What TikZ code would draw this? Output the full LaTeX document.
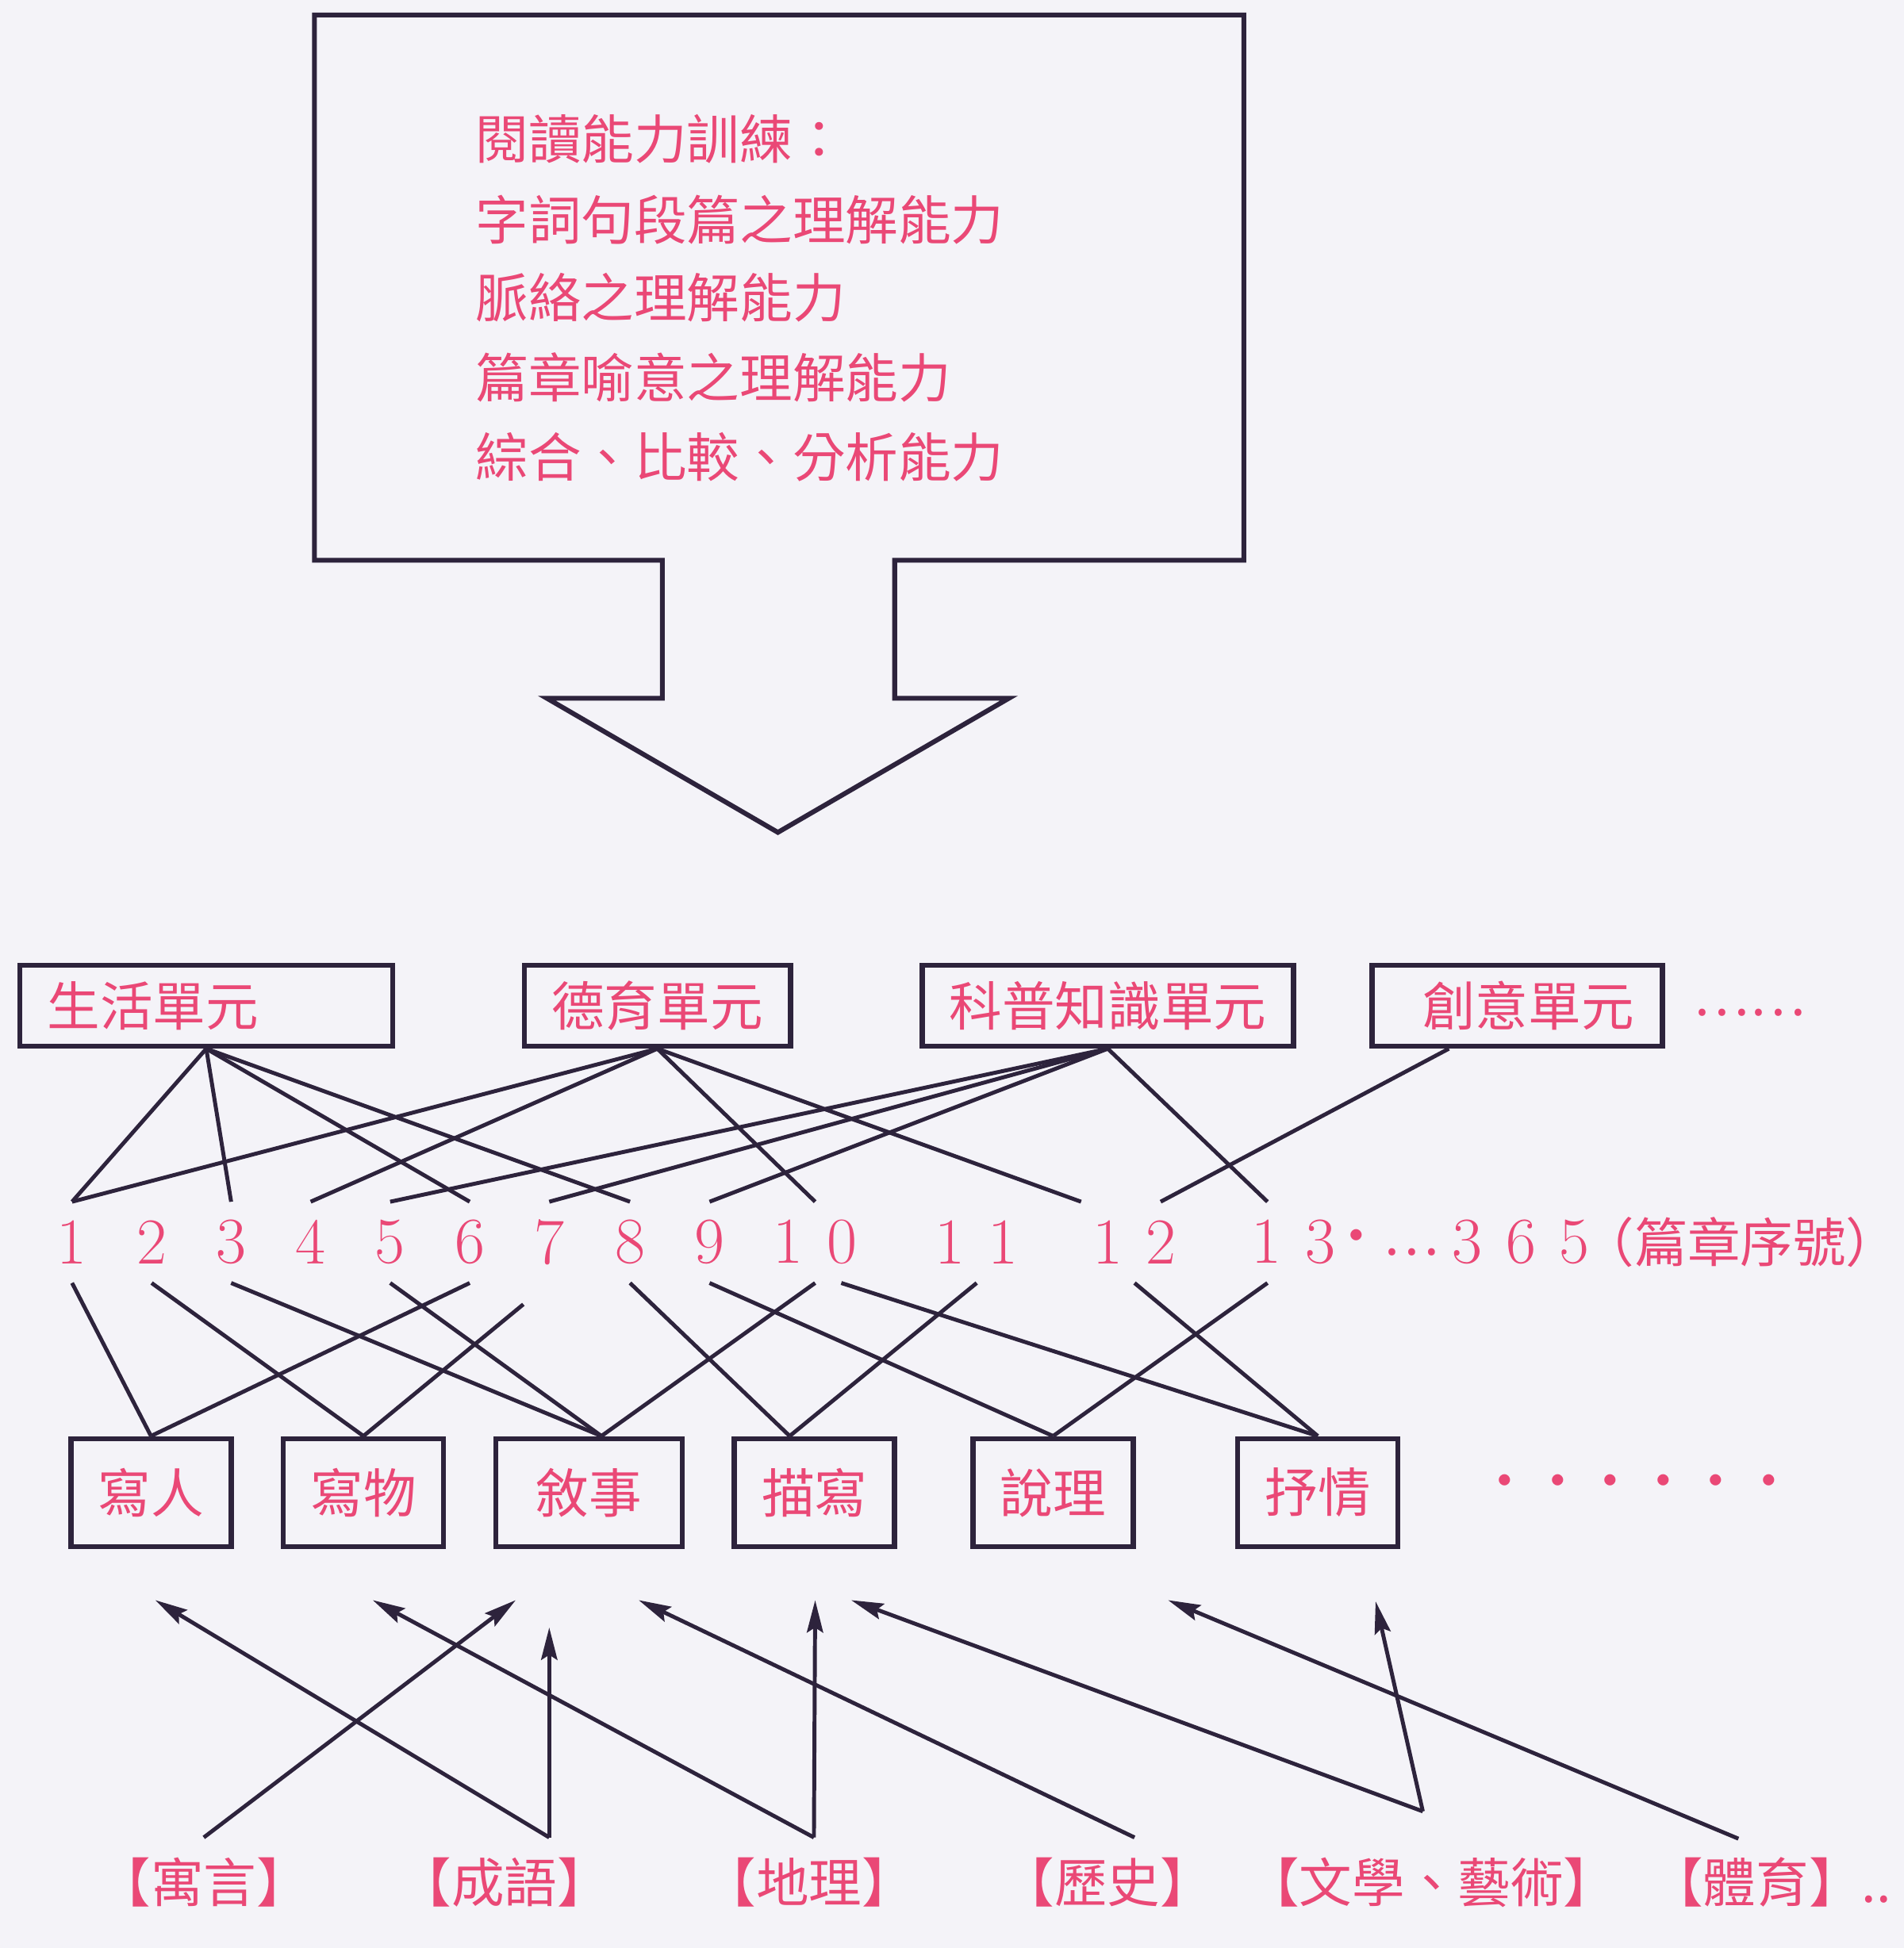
\documentclass[tikz,border=0pt]{standalone}
\usepackage{fontspec}
\newfontfamily\cjk{Noto Sans CJK TC}
\usetikzlibrary{arrows.meta,positioning}
\definecolor{ink}{RGB}{234,72,118}
\definecolor{wire}{RGB}{45,35,60}
\definecolor{paper}{RGB}{244,243,248}
\newcommand{\hanzi}{\cjk\fontsize{12.1}{14}\selectfont}
\newcommand{\dg}[1]{\makebox[0.43cm]{#1}}
\tikzset{
  cjktext/.style={text=ink, font=\hanzi, inner sep=0},
  unitbox/.style={cjktext, draw=wire, line width=1.2pt, minimum height=0.65cm},
  kindbox/.style={cjktext, draw=wire, line width=1.2pt, minimum height=0.87cm, minimum width=1.29cm},
  num/.style={text=ink, font=\fontsize{15}{18}\selectfont, inner sep=0, minimum height=0.64cm},
  frame/.style={draw=wire, line width=1.1pt, line join=miter},
  link/.style={draw=wire, line width=0.9pt},
  feed/.style={link, -{Stealth[length=0.26cm,width=0.13cm,inset=0.04cm]}},
}
\begin{document}
\begin{tikzpicture}
      \useasboundingbox (0,0) rectangle (15.32,-15.68);
      \fill[paper] (0,0) rectangle (15.32,-15.68);
      \draw[frame] (2.53,-0.12) -- (10.01,-0.12) -- (10.01,-4.51) -- (7.20,-4.51)
        -- (7.20,-5.62) -- (8.12,-5.62) -- (6.26,-6.70) -- (4.40,-5.62)
        -- (5.33,-5.62) -- (5.33,-4.51) -- (2.53,-4.51) -- cycle;
      \node[cjktext, anchor=base west] (aim1) at (3.82,-1.28) {閱讀能力訓練：};
      \node[cjktext, anchor=base west] (aim2) at (3.82,-1.93) {字詞句段篇之理解能力};
      \node[cjktext, anchor=base west] (aim3) at (3.82,-2.56) {脈絡之理解能力};
      \node[cjktext, anchor=base west] (aim4) at (3.82,-3.20) {篇章喻意之理解能力};
      \node[cjktext, anchor=base west] (aim5) at (3.82,-3.84) {綜合、比較、分析能力};
      \node[unitbox, text width=2.56cm, align=left, inner xsep=0.22cm] (life) at (1.66,-8.095) {生活單元};
      \node[unitbox, minimum width=2.14cm] (moral) at (5.29,-8.095) {德育單元};
      \node[unitbox, minimum width=2.99cm] (sci) at (8.915,-8.095) {科普知識單元};
      \node[unitbox, text width=1.88cm, align=right, inner xsep=0.23cm] (crea) at (12.21,-8.095) {創意單元};
      \node[cjktext, anchor=west] (more) at (13.62,-8.15) {……};
      \node[num] (n1) at (0.58,-10.0) {\dg1};
      \node[num] (n2) at (1.22,-10.0) {\dg2};
      \node[num] (n3) at (1.86,-10.0) {\dg3};
      \node[num] (n4) at (2.50,-10.0) {\dg4};
      \node[num] (n5) at (3.14,-10.0) {\dg5};
      \node[num] (n6) at (3.78,-10.0) {\dg6};
      \node[num] (n7) at (4.42,-10.0) {\dg7};
      \node[num] (n8) at (5.07,-10.0) {\dg8};
      \node[num] (n9) at (5.71,-10.0) {\dg9};
      \node[num] (n10) at (6.56,-10.0) {\dg1\dg0};
      \node[num] (n11) at (7.86,-10.0) {\dg1\dg1};
      \node[num] (n12) at (9.13,-10.0) {\dg1\dg2};
      \node[num] (n13) at (10.41,-10.0) {\dg1\dg3};
      \node[num] (n365) at (12.24,-10.0) {\dg3\dg6\dg5};
      \node[cjktext, left=0pt of n365] (gap) {·…};
      \node[cjktext, right=0pt of n365, xshift=-0.17cm] (serial) {（篇章序號）};
      \node[kindbox] (person) at (1.215,-12.015) {寫人};
      \node[kindbox] (thing) at (2.925,-12.015) {寫物};
      \node[kindbox, minimum width=1.50cm] (event) at (4.74,-12.015) {敘事};
      \node[kindbox] (scene) at (6.555,-12.015) {描寫};
      \node[kindbox] (reason) at (8.475,-12.015) {說理};
      \node[kindbox] (feel) at (10.605,-12.015) {抒情};
      \node[cjktext, anchor=west] (etc) at (11.89,-11.97) {‧‧‧‧‧‧};
      \node[cjktext] (fable) at (1.64,-15.15) {【寓言】};
      \node[cjktext] (idiom) at (4.06,-15.15) {【成語】};
      \node[cjktext] (geo) at (6.51,-15.15) {【地理】};
      \node[cjktext] (hist) at (8.91,-15.15) {【歷史】};
      \node[cjktext] (arts) at (11.52,-15.15) {【文學、藝術】};
      \node[cjktext] (sport) at (14.25,-15.15) {【體育】..};
      \coordinate (fable-s) at (1.64,-14.79);
      \coordinate (idiom-s) at (4.42,-14.79);
      \coordinate (geo-s) at (6.55,-14.79);
      \coordinate (hist-s) at (9.13,-14.79);
      \coordinate (arts-s) at (11.45,-14.58);
      \coordinate (sport-s) at (13.99,-14.80);
      \coordinate (t1) at (1.25,-12.88);
      \coordinate (t2) at (3.00,-12.88);
      \coordinate (t3) at (4.15,-12.88);
      \coordinate (t4) at (4.42,-13.10);
      \coordinate (t5) at (5.14,-12.88);
      \coordinate (t6) at (6.56,-12.88);
      \coordinate (t7) at (6.85,-12.88);
      \coordinate (t8) at (9.40,-12.88);
      \coordinate (t9) at (11.07,-12.89);
      \begin{scope}[link]
        \draw (life.south) to (n1.north);
        \draw (life.south) to (n3.north);
        \draw (life.south) to (n6.north);
        \draw (life.south) to (n8.north);
        \draw (moral.south) to (n1.north);
        \draw (moral.south) to (n4.north);
        \draw (moral.south) to (n10.north);
        \draw (moral.south) to ([xshift=-0.43cm]n12.north);
        \draw (sci.south) to (n5.north);
        \draw (sci.south) to (n7.north);
        \draw (sci.south) to (n9.north);
        \draw (sci.south) to ([xshift=-0.21cm]n13.north);
        \draw ([xshift=-0.55cm]crea.south) to ([xshift=0.21cm]n12.north);
        \draw (n1.south) to (person.north);
        \draw (n6.south) to (person.north);
        \draw (n2.south) to (thing.north);
        \draw[shorten <=0.27cm] (n7.south) to (thing.north);
        \draw (n3.south) to ([xshift=0.1cm]event.north);
        \draw (n5.south) to ([xshift=0.1cm]event.north);
        \draw (n10.south) to ([xshift=0.1cm]event.north);
        \draw (n8.south) to ([xshift=-0.2cm]scene.north);
        \draw (n11.south) to ([xshift=-0.2cm]scene.north);
        \draw (n9.south) to (reason.north);
        \draw ([xshift=-0.21cm]n13.south) to (reason.north);
        \draw ([xshift=0.21cm]n10.south) to (feel.north);
        \draw (n12.south) to (feel.north);
      \end{scope}
      \begin{scope}[feed]
        \draw (fable-s) to (t3);
        \draw (idiom-s) to (t1);
        \draw (idiom-s) to (t4);
        \draw (geo-s) to (t2);
        \draw (geo-s) to (t6);
        \draw (hist-s) to (t5);
        \draw (arts-s) to (t7);
        \draw (arts-s) to (t9);
        \draw (sport-s) to (t8);
      \end{scope}
    \end{tikzpicture}
\end{document}
